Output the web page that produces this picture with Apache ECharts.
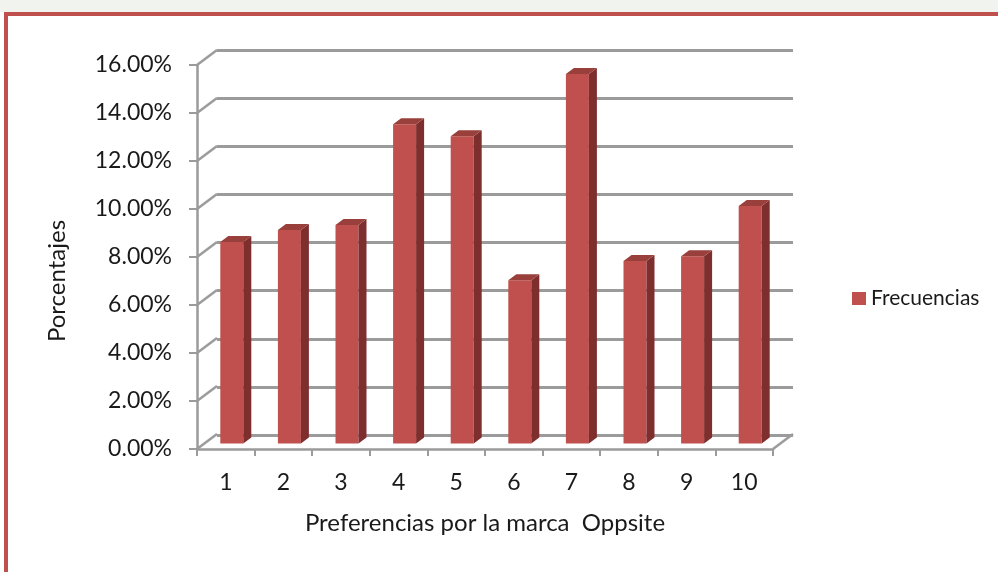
<!DOCTYPE html>
<html>
<head>
<meta charset="utf-8">
<script src="https://cdn.jsdelivr.net/npm/echarts@6/dist/echarts.min.js"></script>
<style>
  html, body { margin: 0; padding: 0; background: #fff; }
  #chart { width: 998px; height: 572px; }
</style>
</head>
<body>
<div id="chart"></div>
<script>
// datos
const categories = ['1', '2', '3', '4', '5', '6', '7', '8', '9', '10'];
const frecuencias = [0.084, 0.089, 0.091, 0.133, 0.128, 0.068, 0.154, 0.076, 0.078, 0.099];
const yTicks = [0, 0.02, 0.04, 0.06, 0.08, 0.10, 0.12, 0.14, 0.16];

// colores
const redFront = '#C0504D';
const redSide = '#7E2E2C';
const redTop = '#99403D';
const gridColor = '#9B9B9B';
const textColor = '#1a1a1a';
const textFont = 'Lato';

// profundidad del "3D"
const depthX = 20;
const depthY = -15;
const barW = 23;
const barDX = 8;
const barDY = -6;

const chart = echarts.init(document.getElementById('chart'));

const option = {
  animation: false,
  backgroundColor: '#fff',
  textStyle: { fontFamily: textFont },
  grid: [
    { left: 197, right: 225, top: 65, bottom: 123 },
    { left: 217, right: 205, top: 50, bottom: 137 },
  ],
  legend: {
    data: [{ name: 'Frecuencias', icon: 'rect' }],
    left: 847,
    top: 283,
    itemWidth: 14,
    itemHeight: 13,
    itemGap: 6,
    textStyle: { fontFamily: textFont, fontSize: 21, color: textColor },
  },
  xAxis: [
    {
      type: 'category',
      gridIndex: 0,
      data: categories,
      boundaryGap: true,
      axisLine: { lineStyle: { color: gridColor, width: 2.5 } },
      axisTick: { show: true, inside: false, length: 7, lineStyle: { color: gridColor, width: 2 } },
      axisLabel: { margin: 22, fontSize: 23, color: textColor, fontFamily: textFont },
      name: 'Preferencias por la marca  Oppsite',
      nameLocation: 'middle',
      nameGap: 62,
      nameTextStyle: { fontSize: 24, color: textColor, fontFamily: textFont },
    },
    {
      type: 'category',
      gridIndex: 1,
      data: categories,
      show: false,
    },
  ],
  yAxis: [
    {
      type: 'value',
      gridIndex: 0,
      min: 0,
      max: 0.16,
      interval: 0.02,
      axisLine: { show: true, lineStyle: { color: gridColor, width: 2.5 } },
      axisTick: { show: true, length: 8, lineStyle: { color: gridColor, width: 2 } },
      splitLine: { show: false },
      axisLabel: {
        margin: 25,
        fontSize: 23,
        color: textColor,
        fontFamily: textFont,
        formatter: (v) => (v * 100).toFixed(2) + '%',
      },
    },
    {
      type: 'value',
      gridIndex: 1,
      min: 0,
      max: 0.16,
      interval: 0.02,
      axisLine: { show: false },
      axisTick: { show: false },
      axisLabel: { show: false },
      splitLine: { show: true, lineStyle: { color: gridColor, width: 3 } },
    },
  ],
  series: [
    // lineas diagonales entre el eje frontal y la pared del fondo
    {
      type: 'custom',
      xAxisIndex: 0,
      yAxisIndex: 0,
      silent: true,
      data: yTicks.map((v) => [0, v]),
      renderItem: (params, api) => {
        const rect = params.coordSys;
        const y = api.coord([0, api.value(1)])[1];
        return {
          type: 'line',
          shape: { x1: rect.x, y1: y, x2: rect.x + depthX, y2: y + depthY },
          style: { stroke: gridColor, lineWidth: 2.5 },
        };
      },
      z: 1,
    },
    // suelo: esquina derecha
    {
      type: 'custom',
      xAxisIndex: 0,
      yAxisIndex: 0,
      silent: true,
      data: [[0, 0]],
      renderItem: (params, api) => {
        const rect = params.coordSys;
        const y = api.coord([0, 0])[1];
        const x = rect.x + rect.width;
        return {
          type: 'line',
          shape: { x1: x, y1: y, x2: x + depthX, y2: y + depthY },
          style: { stroke: gridColor, lineWidth: 2.5 },
        };
      },
      z: 1,
    },
    // barras 3D
    {
      name: 'Frecuencias',
      type: 'custom',
      xAxisIndex: 0,
      yAxisIndex: 0,
      itemStyle: { color: redFront },
      data: frecuencias.map((v, i) => [i, v]),
      renderItem: (params, api) => {
        const top = api.coord([api.value(0), api.value(1)]);
        const base = api.coord([api.value(0), 0]);
        // la barra queda a media profundidad
        const cx = top[0] + depthX / 2 - barDX / 2;
        const oy = depthY / 2 + 2;
        const x0 = cx - barW / 2;
        const x1 = cx + barW / 2;
        const yt = top[1] + oy;
        const yb = base[1] + oy;
        return {
          type: 'group',
          children: [
            {
              type: 'rect',
              shape: { x: x0, y: yt, width: barW, height: yb - yt },
              style: { fill: redFront },
            },
            {
              type: 'polygon',
              shape: { points: [[x1, yt], [x1 + barDX, yt + barDY], [x1 + barDX, yb + barDY], [x1, yb]] },
              style: { fill: redSide },
            },
            {
              type: 'polygon',
              shape: { points: [[x0, yt], [x0 + barDX, yt + barDY], [x1 + barDX, yt + barDY], [x1, yt]] },
              style: { fill: redTop },
            },
          ],
        };
      },
      z: 3,
    },
  ],
  graphic: [
    {
      type: 'rect',
      shape: { x: 0, y: 0, width: 998, height: 12 },
      style: { fill: '#F1F3EF' },
      silent: true,
    },
    {
      type: 'polyline',
      shape: { points: [[6, 572], [6, 14], [998, 14]] },
      style: { stroke: '#C0504D', lineWidth: 4, fill: null },
      silent: true,
    },
    // titulo del eje vertical
    {
      type: 'text',
      x: 57,
      y: 281,
      rotation: Math.PI / 2,
      style: {
        text: 'Porcentajes',
        fontFamily: textFont,
        fontSize: 24,
        fill: textColor,
        align: 'center',
        verticalAlign: 'middle',
      },
      silent: true,
    },
  ],
};

chart.setOption(option);
</script>
</body>
</html>
